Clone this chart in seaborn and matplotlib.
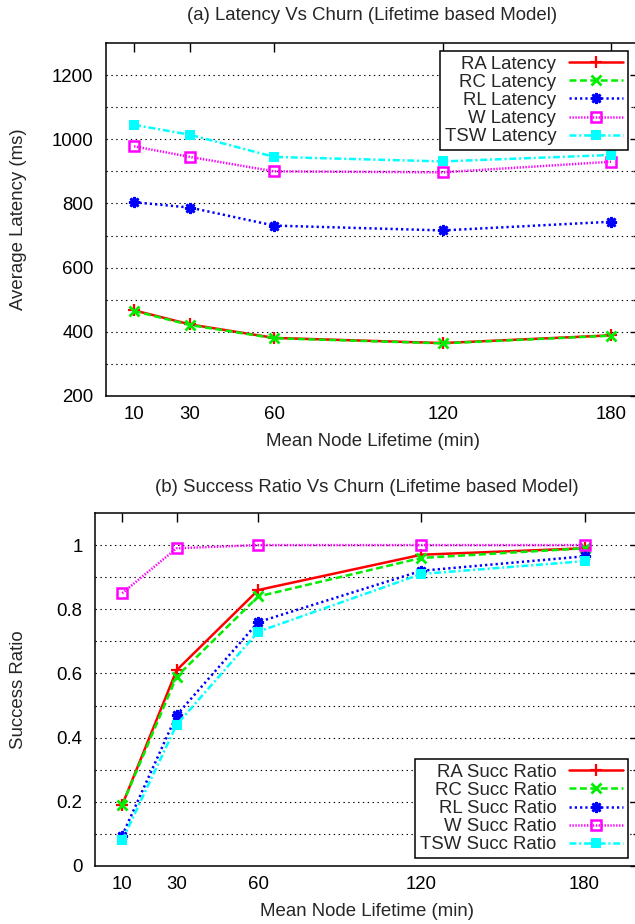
import matplotlib
matplotlib.use("Agg")
import matplotlib.pyplot as plt
import seaborn as sns

# values
lifetime = [10, 30, 60, 120, 180]

ra_latency = [467, 423, 381, 365, 389]
rc_latency = [465, 421, 380, 364, 388]
rl_latency = [804, 787, 731, 716, 743]
w_latency = [978, 945, 900, 897, 930]
tsw_latency = [1045, 1014, 945, 931, 951]

ra_succ = [0.19, 0.61, 0.86, 0.97, 0.99]
rc_succ = [0.19, 0.59, 0.84, 0.96, 0.99]
rl_succ = [0.095, 0.47, 0.76, 0.92, 0.965]
w_succ = [0.85, 0.99, 1.0, 1.0, 1.0]
tsw_succ = [0.08, 0.44, 0.73, 0.91, 0.95]

latency_ticks = [200, 400, 600, 800, 1000, 1200]
succ_ticks = [0, 0.2, 0.4, 0.6, 0.8, 1.0]
succ_tick_labels = ['0', '0.2', '0.4', '0.6', '0.8', '1']

sns.set_style("white")
plt.rcParams['font.family'] = ['Liberation Sans', 'DejaVu Sans']
plt.rcParams['lines.scale_dashes'] = False

FS = 13.4

# one style per protocol (gnuplot-like)
styles = {
    'RA': dict(color='#ff0000', ls='-', marker='+', ms=8, mew=1.6),
    'RC': dict(color='#00ee00', ls=(0, (5, 2.5)), marker='x', ms=6.5, mew=2),
    'RL': dict(color='#0000ff', ls=(0, (1.6, 2.2)), marker=(8, 2, 0), ms=8, mew=1.9),
    'W': dict(color='#ff00ff', ls=(0, (1, 1.1)), marker='s', ms=7.2, mew=1.8, mfc='none'),
    'TSW': dict(color='#00ffff', ls=(0, (5, 2, 1.5, 2)), marker='s', ms=7, mew=0),
}


def style_axes(ax):
    for s in ax.spines.values():
        s.set_color('black')
        s.set_linewidth(1.1)
    ax.tick_params(which='both', direction='in', top=True, right=True,
                   colors='black', labelsize=FS, width=1)
    ax.tick_params(which='major', length=6.5)
    ax.tick_params(which='minor', length=4)
    ax.tick_params(axis='y', pad=9)
    ax.tick_params(axis='x', pad=7)
    ax.tick_params(axis='x', which='minor', top=False, bottom=False)
    ax.grid(False)
    ax.yaxis.grid(True, which='both', color='black', lw=0.8, ls=(0, (1, 2.5)))
    ax.set_axisbelow(True)


def draw(ax, series, suffix):
    for name, vals in series:
        st = styles[name]
        sns.lineplot(x=lifetime, y=vals, ax=ax, color=st['color'], linestyle=st['ls'],
                     marker=st['marker'], markersize=st['ms'], markeredgewidth=st['mew'],
                     markeredgecolor=st['color'], markerfacecolor=st.get('mfc', st['color']),
                     linewidth=1.8, errorbar=None, sort=False,
                     label=f"{name} {suffix}")


def add_legend(ax, anchor, loc):
    leg = ax.legend(loc=loc, bbox_to_anchor=anchor,
                    bbox_transform=fig.transFigure, markerfirst=False, fontsize=FS,
                    frameon=True, fancybox=False, edgecolor='black', framealpha=1,
                    borderpad=0.25, labelspacing=0.06, handlelength=2.9,
                    handletextpad=0.7, borderaxespad=0)
    leg.get_frame().set_linewidth(1.1)
    return leg


fig = plt.figure(figsize=(6.35, 9.24), dpi=100)
W, H = 635.0, 924.0

# (a) latency
ax1 = fig.add_axes([106 / W, 1 - 396 / H, (639 - 106) / W, 353 / H])
draw(ax1, [('RA', ra_latency), ('RC', rc_latency), ('RL', rl_latency),
           ('W', w_latency), ('TSW', tsw_latency)], 'Latency')
ax1.set_xlim(0, 190)
ax1.set_ylim(200, 1300)
ax1.set_xticks(lifetime)
ax1.set_yticks(latency_ticks)
ax1.set_yticks([v + 100 for v in latency_ticks[:-1]], minor=True)
style_axes(ax1)
ax1.set_xlabel('Mean Node Lifetime (min)', fontsize=FS)
ax1.set_ylabel('Average Latency (ms)', fontsize=FS)
ax1.xaxis.set_label_coords(0.5, -0.105)
ax1.yaxis.set_label_coords(-0.148, 0.5)
add_legend(ax1, (628 / W, 1 - 51 / H), 'upper right')
fig.text(372.5 / W, 1 - 15 / H, '(a) Latency Vs Churn (Lifetime based Model)',
         ha='center', va='center', fontsize=FS)

# (b) success ratio
ax2 = fig.add_axes([95 / W, 1 - 866 / H, (639 - 95) / W, 353 / H])
draw(ax2, [('RA', ra_succ), ('RC', rc_succ), ('RL', rl_succ),
           ('W', w_succ), ('TSW', tsw_succ)], 'Succ Ratio')
ax2.set_xlim(0, 200)
ax2.set_ylim(0, 1.1)
ax2.set_xticks(lifetime)
ax2.set_yticks(succ_ticks)
ax2.set_yticklabels(succ_tick_labels)
ax2.set_yticks([v + 0.1 for v in succ_ticks[:-1]], minor=True)
style_axes(ax2)
ax2.set_xlabel('Mean Node Lifetime (min)', fontsize=FS)
ax2.set_ylabel('Success Ratio', fontsize=FS)
ax2.xaxis.set_label_coords(0.5, -0.105)
ax2.yaxis.set_label_coords(-0.125, 0.5)
add_legend(ax2, (628 / W, 1 - 858 / H), 'lower right')
fig.text(367 / W, 1 - 488 / H, '(b) Success Ratio Vs Churn (Lifetime based Model)',
         ha='center', va='center', fontsize=FS)

fig.savefig('out.png', dpi=100)
